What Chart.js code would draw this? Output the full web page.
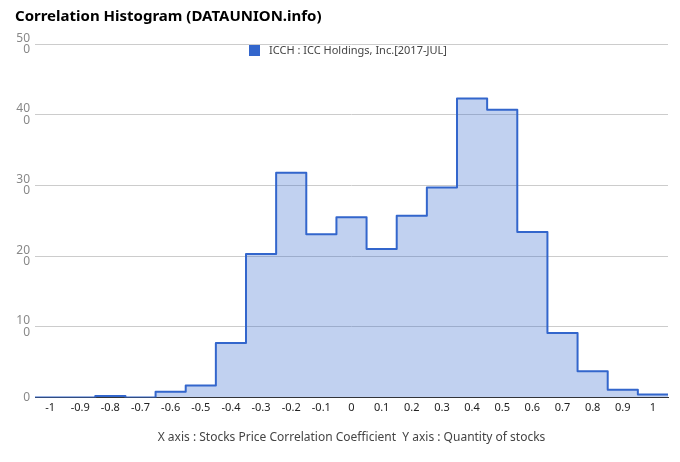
<!DOCTYPE html>
<html>
<head>
<meta charset="utf-8">
<script src="https://cdn.jsdelivr.net/npm/chart.js@4"></script>
<style>
  html, body { margin: 0; padding: 0; background: #fff; }
  #histChart { display: block; }
</style>
</head>
<body>
<canvas id="histChart" width="680" height="462"></canvas>
<script>
const binCenters = [-1, -0.9, -0.8, -0.7, -0.6, -0.5, -0.4, -0.3, -0.2, -0.1, 0, 0.1, 0.2, 0.3, 0.4, 0.5, 0.6, 0.7, 0.8, 0.9, 1];
const stockCounts = [0, 0, 2, 0, 8, 17, 77, 203, 318, 231, 255, 210, 257, 297, 423, 407, 234, 91, 37, 11, 4];
const xTicks = [-1, -0.9, -0.8, -0.7, -0.6, -0.5, -0.4, -0.3, -0.2, -0.1, 0, 0.1, 0.2, 0.3, 0.4, 0.5, 0.6, 0.7, 0.8, 0.9, 1];
const yTicks = [0, 100, 200, 300, 400, 500];
const seriesLabel = "ICCH : ICC Holdings, Inc.[2017-JUL]";
const chartTitle = "Correlation Histogram (DATAUNION.info)";
const axisCaption = "X axis : Stocks Price Correlation Coefficient  Y axis : Quantity of stocks";

const FONT = "'Noto Sans', 'Open Sans', sans-serif";
const LINE_COLOR = "#3366cc";
const halfBin = 0.05;

// step points at the left edge of every bin, plus the right edge of the last one
const points = binCenters.map((c, i) => ({ x: c - halfBin, y: stockCounts[i] }));
points.push({ x: binCenters[binCenters.length - 1] + halfBin, y: stockCounts[stockCounts.length - 1] });

// legend sits inside the plot, just under the top gridline
const innerLegend = {
  id: "innerLegend",
  afterDraw(chart) {
    const ctx = chart.ctx;
    const area = chart.chartArea;
    ctx.save();
    ctx.font = "11px " + FONT;
    const textW = ctx.measureText(seriesLabel).width;
    const box = 11, gap = 9;
    const total = box + gap + textW;
    const x0 = Math.round((area.left + area.right) / 2 - total / 2) - 4;
    const y0 = area.top + 1;
    ctx.fillStyle = LINE_COLOR;
    ctx.fillRect(x0, y0, box, box);
    ctx.fillStyle = "#444";
    ctx.textBaseline = "middle";
    ctx.textAlign = "left";
    ctx.fillText(seriesLabel, x0 + box + gap, y0 + box / 2 + 0.5);
    ctx.restore();
  }
};

new Chart(document.getElementById("histChart").getContext("2d"), {
  type: "line",
  data: {
    datasets: [{
      label: seriesLabel,
      data: points,
      stepped: true,
      borderColor: LINE_COLOR,
      backgroundColor: "rgba(51, 102, 204, 0.3)",
      borderWidth: 2,
      borderJoinStyle: "round",
      fill: "origin",
      pointRadius: 0,
      pointHoverRadius: 0
    }]
  },
  options: {
    responsive: false,
    animation: false,
    devicePixelRatio: 1,
    layout: {
      padding: { left: 15, right: 12, top: 0, bottom: 11 }
    },
    plugins: {
      legend: { display: false },
      tooltip: { enabled: false },
      title: {
        display: true,
        text: chartTitle,
        align: "start",
        color: "#000",
        font: { family: FONT, size: 15, weight: "bold" },
        padding: { top: 8, bottom: 18 }
      }
    },
    scales: {
      x: {
        type: "linear",
        min: -1.05,
        max: 1.05,
        afterBuildTicks: (scale) => {
          scale.ticks = xTicks.map(v => ({ value: v }));
        },
        grid: { display: false, drawTicks: false },
        border: { display: true, color: "#333", width: 1 },
        ticks: {
          autoSkip: false,
          maxRotation: 0,
          padding: 4,
          color: "#222",
          font: { family: FONT, size: 11 },
          callback: (v) => String(Math.round(v * 10) / 10)
        },
        title: {
          display: true,
          text: axisCaption,
          color: "#444",
          font: { family: FONT, size: 12 },
          padding: { top: 12, bottom: 6 }
        }
      },
      y: {
        min: 0,
        max: 500,
        afterBuildTicks: (scale) => {
          scale.ticks = yTicks.map(v => ({ value: v }));
        },
        afterFit: (scale) => {
          scale.width = 20;
        },
        grid: { color: "#ccc", drawTicks: false },
        border: { display: false },
        ticks: {
          padding: 5,
          color: "#888",
          font: { family: FONT, size: 12, lineHeight: 0.95 },
          callback: (v) => {
            const s = String(v);
            return v === 0 ? s : [s.slice(0, -1), s.slice(-1)];
          }
        }
      }
    }
  },
  plugins: [innerLegend]
});
</script>
</body>
</html>
